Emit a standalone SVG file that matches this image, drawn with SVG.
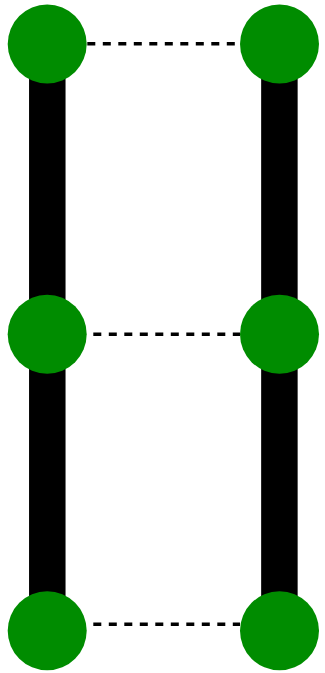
<svg xmlns="http://www.w3.org/2000/svg" width="325" height="673" viewBox="0 0 325 673">
<style>
.thick{stroke:#000;stroke-width:36.5;fill:none}
.dash{stroke:#000;stroke-width:3.5;stroke-dasharray:8 7.5;fill:none}
.node{fill:#008c00}
</style>
<rect width="325" height="673" fill="#fff"/>
<g id="connectors">
<line class="thick" x1="47.3" y1="44" x2="47.3" y2="631"/>
<line class="thick" x1="279.4" y1="44" x2="279.4" y2="631"/>
<line class="dash" x1="87.3" y1="43.7" x2="240" y2="43.7"/>
<line class="dash" x1="93.3" y1="334.3" x2="240" y2="334.3"/>
<line class="dash" x1="93.3" y1="624.3" x2="240" y2="624.3"/>
</g>
<g id="n1"><circle class="node" cx="47.2" cy="44" r="39.5"/></g>
<g id="n2"><circle class="node" cx="279.5" cy="44" r="39.5"/></g>
<g id="n3"><circle class="node" cx="47.2" cy="334.2" r="39.5"/></g>
<g id="n4"><circle class="node" cx="279.5" cy="334.2" r="39.5"/></g>
<g id="n5"><circle class="node" cx="47.2" cy="630.8" r="39.5"/></g>
<g id="n6"><circle class="node" cx="279.5" cy="630.8" r="39.5"/></g>
</svg>
